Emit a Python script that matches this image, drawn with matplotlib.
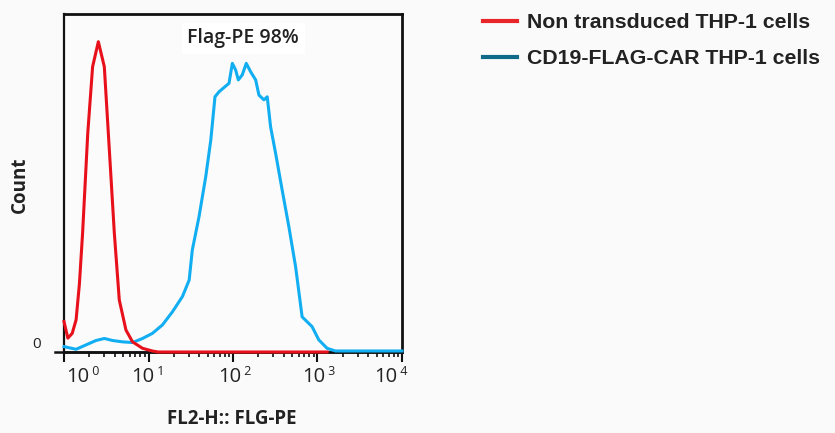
import matplotlib
matplotlib.use("Agg")
import matplotlib.pyplot as plt
import matplotlib.transforms as mtransforms
from matplotlib.lines import Line2D
import numpy as np

# ---- data ----
red_x = [1.0, 1.11, 1.25, 1.39, 1.52, 1.66, 1.91, 2.18, 2.55, 3.0, 3.44, 3.94, 4.51, 5.41, 6.47, 8.49, 11.1, 13.0, 1300.0]
red_y = [9.0, 4.1, 5.5, 9.5, 20.0, 35.2, 64.7, 84.4, 91.8, 84.4, 59.8, 35.2, 15.4, 6.5, 3.0, 1.1, 0.3, 0.0, 0.0]

blue_x = [1.0, 1.39, 1.82, 2.39, 3.0, 3.76, 4.93, 6.47, 8.49, 11.1, 14.6, 19.2, 25.2, 30.3, 33.0,
          39.6, 47.6, 54.6, 61.2, 68.4, 89.7, 98.2, 107.6, 115.6, 128.8, 143.5, 161.8, 185.4,
          202.8, 232.3, 254.1, 278.6, 319.2, 381.9, 458.1, 550.8, 657.7, 863.0, 1035.0, 1297.0,
          1629.0, 10000.0]
blue_y = [1.6, 0.8, 2.1, 3.4, 4.0, 3.4, 3.0, 2.8, 4.0, 5.5, 8.0, 11.9, 16.4, 21.3, 30.2,
          40.0, 51.9, 62.7, 75.5, 77.0, 79.5, 85.4, 83.4, 80.5, 82.0, 85.4, 82.9, 80.5,
          76.0, 74.6, 75.5, 66.6, 58.8, 47.9, 37.1, 25.2, 10.4, 7.5, 3.6, 1.1,
          0.3, 0.3]

decades = [1, 10, 100, 1000, 10000]
exponents = ["0", "1", "2", "3", "4"]
series_labels = ["Non transduced THP-1 cells", "CD19-FLAG-CAR THP-1 cells"]
curve_colors = ["#e8101a", "#12aef2"]
legend_colors = ["#e8262a", "#0f6a8a"]

fig = plt.figure(figsize=(8.35, 4.33), dpi=100)
fig.patch.set_facecolor("#fafafa")
ax = fig.add_axes([64 / 835, (433 - 352) / 433, (402 - 64) / 835, (352 - 14) / 433])
ax.set_facecolor("#fbfbfb")

ax.set_xscale("log")
ax.set_xlim(1, 10000)
ax.set_ylim(0, 100)

ax.plot(blue_x, blue_y, color=curve_colors[1], lw=2.2, clip_on=False, zorder=4)
ax.plot(red_x, red_y, color=curve_colors[0], lw=2.2, clip_on=False, zorder=5)

# spines
for s, w in (("top", 2.0), ("right", 2.0), ("left", 1.6), ("bottom", 1.8)):
    ax.spines[s].set_linewidth(w)
    ax.spines[s].set_color("#111111")
ax.axhline(0, xmin=-0.027, xmax=1.0, color="#111111", lw=1.8, clip_on=False, zorder=3)

# ticks
ax.set_xticks(decades)
ax.set_xticklabels([])
ax.xaxis.set_minor_locator(matplotlib.ticker.LogLocator(base=10, subs=np.arange(2, 10)))
ax.xaxis.set_minor_formatter(matplotlib.ticker.NullFormatter())
ax.tick_params(axis="x", which="major", direction="out", length=7, width=1.5, color="#111111")
ax.tick_params(axis="x", which="minor", direction="out", length=3.5, width=1.2, color="#111111")

ax.set_yticks([0])
ax.set_yticklabels(["0"], fontsize=11, family="Open Sans", color="#222222", va="bottom")
ax.tick_params(axis="y", length=0, pad=17)

# x tick labels: "10" with a small separated exponent
offsets = [25, 6, 8, 8, -5]
trans_x = mtransforms.blended_transform_factory(ax.transData, ax.transAxes)
for d, e, off in zip(decades, exponents, offsets):
    t = trans_x + mtransforms.ScaledTranslation(off / 100, 0, fig.dpi_scale_trans)
    ax.text(d, -0.073, "10", transform=t, ha="right", va="center", fontsize=14.5,
            family="Open Sans", color="#222222")
    ax.text(d, -0.058, " " + e, transform=t, ha="left", va="center", fontsize=9,
            family="Open Sans", color="#222222")

ax.text(0.53, 0.928, "Flag-PE 98%", transform=ax.transAxes, ha="center", va="center",
        fontsize=14, fontweight="semibold", family="Open Sans", color="#222222",
        bbox=dict(facecolor="white", edgecolor="none", pad=4), zorder=6)

fig.text(20 / 835, 1 - 185 / 433, "Count", rotation=90, ha="center", va="center",
         fontsize=13.5, fontweight="bold", family="Open Sans", color="#222222")
fig.text(232 / 835, 1 - 419 / 433, "FL2-H:: FLG-PE", ha="center", va="center",
         fontsize=13.5, fontweight="bold", family="Open Sans", color="#222222")

handles = [Line2D([], [], color=c, lw=3) for c in legend_colors]
fig.legend(handles, series_labels, loc="upper left", bbox_to_anchor=(474 / 835, 1 - 5 / 433),
           frameon=False, prop=dict(family="Liberation Sans", weight="bold", size=15.3),
           handlelength=1.64, handletextpad=0.47, labelspacing=0.8, labelcolor="#222222",
           borderaxespad=0, borderpad=0.4)

fig.savefig("out.png", dpi=100, facecolor=fig.get_facecolor())
